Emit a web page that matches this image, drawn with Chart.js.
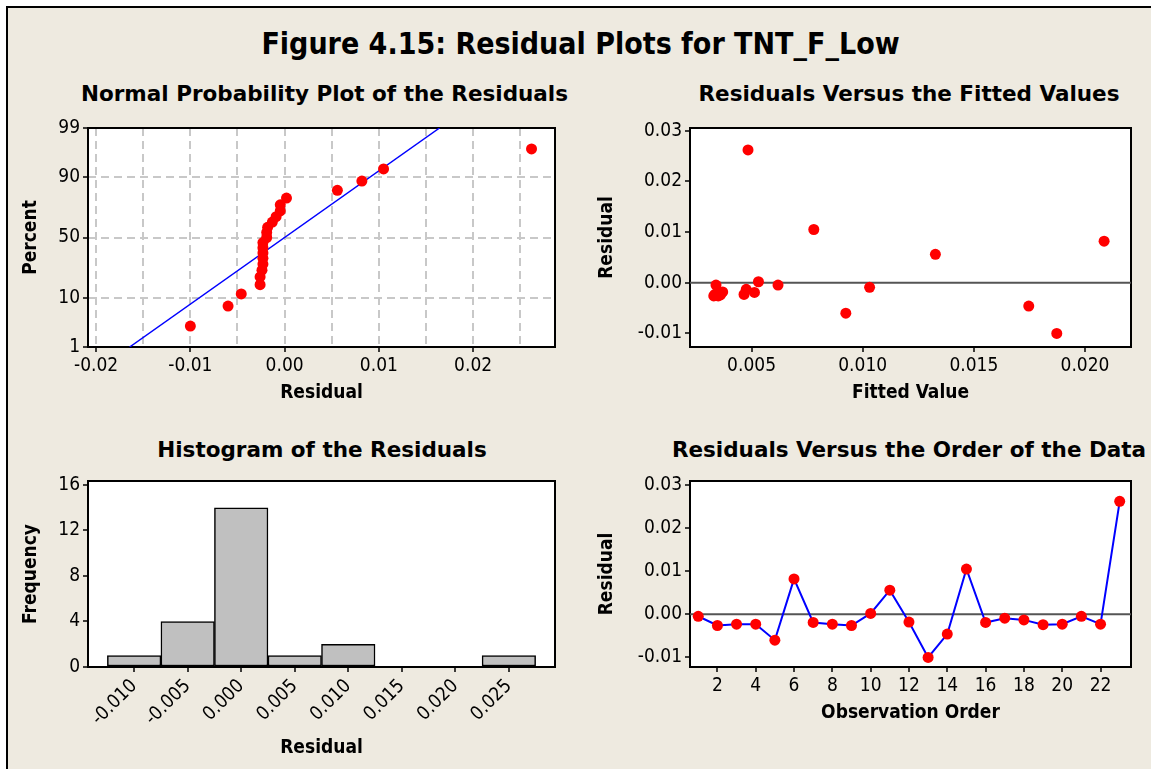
<!DOCTYPE html>
<html>
<head>
<meta charset="utf-8">
<title>Residual Plots for TNT_F_Low</title>
<script src="https://cdn.jsdelivr.net/npm/chart.js@4.4.1/dist/chart.umd.min.js"></script>
<style>
  html, body { margin: 0; padding: 0; background: #fff; overflow: hidden; }
  body { width: 1151px; height: 769px; position: relative; font-family: 'DejaVu Sans', sans-serif; }
  #sheet { position: absolute; left: 6px; top: 6px; width: 1200px; height: 800px; background: #eeeae0; border-left: 2px solid #000; border-top: 2px solid #000; }
  canvas { position: absolute; }
  .title { position: absolute; text-align: center; font-weight: bold; color: #000; white-space: nowrap; }
  #main-title { left: 10px; width: 1141px; top: 25px; height: 38px; line-height: 38px; font-size: 30px; font-family: 'DejaVu Sans Condensed', 'DejaVu Sans', sans-serif; }
  .panel-title { width: 484px; height: 28px; line-height: 28px; font-size: 21.5px; }
</style>
</head>
<body>
<div id="sheet"></div>
<div class="title" id="main-title">Figure 4.15: Residual Plots for TNT_F_Low</div>
<div class="title panel-title" style="left:81px;top:80px">Normal Probability Plot of the Residuals</div>
<div class="title panel-title" style="left:667px;top:80px">Residuals Versus the Fitted Values</div>
<div class="title panel-title" style="left:80px;top:436px">Histogram of the Residuals</div>
<div class="title panel-title" style="left:667px;top:436px">Residuals Versus the Order of the Data</div>
<canvas id="normalPlot" width="600" height="300" style="left:0;top:110px"></canvas>
<canvas id="fittedPlot" width="571" height="300" style="left:580px;top:110px"></canvas>
<canvas id="histPlot" width="600" height="309" style="left:0;top:460px"></canvas>
<canvas id="orderPlot" width="571" height="309" style="left:580px;top:460px"></canvas>
<script>
// residuals and fits, in observation order
const observation = [1, 2, 3, 4, 5, 6, 7, 8, 9, 10, 11, 12, 13, 14, 15, 16, 17, 18, 19, 20, 21, 22, 23];
const residuals = [-0.00046, -0.0026, -0.0023, -0.0023, -0.0060, 0.0082, -0.0019, -0.0023, -0.0026, 0.0002,
  0.0056, -0.0018, -0.0100, -0.0046, 0.0105, -0.0019, -0.0009, -0.0013, -0.0024, -0.0023, -0.00046, -0.0023, 0.0262];
const fittedValues = [0.00340, 0.00330, 0.00345, 0.00355, 0.00924, 0.02086, 0.00365, 0.00335, 0.00350, 0.00531,
  0.01327, 0.00370, 0.01873, 0.01747, 0.00780, 0.00513, 0.01031, 0.00476, 0.00360, 0.00342, 0.00619, 0.00466, 0.00484];

// normal probability plot: percent for the sorted residuals, and the fitted normal line
const normalPercent = [2.99, 7.26, 11.54, 15.81, 20.09, 24.36, 28.63, 32.91, 37.18, 41.45, 45.73, 50.00,
  54.27, 58.55, 62.82, 67.09, 71.37, 75.64, 79.91, 84.19, 88.46, 92.74, 97.01];
const fitLineResidual = [-0.01644, 0.01644];
const fitLinePercent = [1, 99];

// histogram
const histBinCenters = [-0.010, -0.005, 0.000, 0.005, 0.010, 0.015, 0.020, 0.025];
const histCounts = [1, 4, 14, 1, 2, 0, 0, 1];

// ticks
const percentTicks = [1, 10, 50, 90, 99];
const normalGridTicks = [-0.02, -0.015, -0.01, -0.005, 0, 0.005, 0.01, 0.015, 0.02, 0.025];
const normalLabelTicks = [-0.02, -0.01, 0, 0.01, 0.02];
const fittedTicks = [0.005, 0.010, 0.015, 0.020];
const residualTicks = [-0.01, 0, 0.01, 0.02, 0.03];
const frequencyTicks = [0, 4, 8, 12, 16];
const orderTicks = [2, 4, 6, 8, 10, 12, 14, 16, 18, 20, 22];

Chart.defaults.font.family = "'DejaVu Sans Condensed', 'DejaVu Sans', sans-serif";
Chart.defaults.font.size = 19;
Chart.defaults.color = '#000';

// inverse of the standard normal cdf (Acklam), used by the probability axis
function probit(p) {
  const a = [-39.69683028665376, 220.9460984245205, -275.9285104469687, 138.3577518672690, -30.66479806614716, 2.506628277459239];
  const b = [-54.47609879822406, 161.5858368580409, -155.6989798598866, 66.80131188771972, -13.28068155288572];
  const c = [-0.007784894002430293, -0.3223964580411365, -2.400758277161838, -2.549732539343734, 4.374664141464968, 2.938163982698783];
  const d = [0.007784695709041462, 0.3224671290700398, 2.445134137142996, 3.754408661907416];
  const tail = (q) => (((((c[0] * q + c[1]) * q + c[2]) * q + c[3]) * q + c[4]) * q + c[5]) /
    ((((d[0] * q + d[1]) * q + d[2]) * q + d[3]) * q + 1);
  if (p < 0.02425) return tail(Math.sqrt(-2 * Math.log(p)));
  if (p > 1 - 0.02425) return -tail(Math.sqrt(-2 * Math.log(1 - p)));
  const q = p - 0.5;
  const r = q * q;
  return (((((a[0] * r + a[1]) * r + a[2]) * r + a[3]) * r + a[4]) * r + a[5]) * q /
    (((((b[0] * r + b[1]) * r + b[2]) * r + b[3]) * r + b[4]) * r + 1);
}

class ProbabilityScale extends Chart.LinearScale {
  static id = 'probability';
  static defaults = Chart.LinearScale.defaults;
  buildTicks() {
    return percentTicks.map((value) => ({ value }));
  }
  getPixelForValue(value) {
    const z0 = probit(this.min / 100);
    const z1 = probit(this.max / 100);
    return this.getPixelForDecimal((probit(value / 100) - z0) / (z1 - z0));
  }
}
Chart.register(ProbabilityScale);

// white plot area with a black box round it
const plotFrame = {
  id: 'plotFrame',
  beforeDraw(chart) {
    const { ctx, chartArea: a } = chart;
    ctx.save();
    ctx.fillStyle = '#fff';
    ctx.fillRect(a.left, a.top, a.width, a.height);
    ctx.restore();
  },
  beforeDatasetsDraw(chart) {
    const { ctx, chartArea: a } = chart;
    ctx.save();
    ctx.strokeStyle = '#000';
    ctx.lineWidth = 2;
    ctx.strokeRect(a.left, a.top, a.width, a.height);
    ctx.restore();
  },
};

const fixedSize = (size) => (scale) => {
  if (scale.isHorizontal()) scale.height = size;
  else scale.width = size;
};

function axis({ min, max, ticks, format, size, title, titlePad, grid = false, tickColor = '#000', type = 'linear', rotation = 0 }) {
  return {
    type,
    min,
    max,
    offset: false,
    afterBuildTicks: type === 'linear' ? (scale) => { scale.ticks = ticks.map((value) => ({ value })); } : undefined,
    afterFit: fixedSize(size),
    border: { display: false, dash: [8, 5] },
    grid: {
      offset: false,
      drawOnChartArea: grid,
      color: '#c8c8c8',
      lineWidth: 2,
      tickLength: 5,
      tickWidth: 1.5,
      tickColor,
    },
    ticks: {
      autoSkip: false,
      minRotation: rotation,
      maxRotation: rotation,
      padding: 3,
      callback: format,
    },
    title: {
      display: true,
      text: title,
      font: { weight: 'bold', size: 19 },
      padding: titlePad,
    },
  };
}

const common = {
  responsive: false,
  animation: false,
  events: [],
  plugins: { legend: { display: false }, tooltip: { enabled: false } },
};

const sortedResiduals = [...residuals].sort((a, b) => a - b);

// Normal probability plot
new Chart(document.getElementById('normalPlot'), {
  type: 'scatter',
  data: {
    datasets: [
      {
        data: sortedResiduals.map((r, i) => ({ x: r, y: normalPercent[i] })),
        backgroundColor: '#ff0000',
        borderWidth: 0,
        pointRadius: 5.5,
      },
      {
        data: fitLineResidual.map((r, i) => ({ x: r, y: fitLinePercent[i] })),
        showLine: true,
        borderColor: '#0000ff',
        borderWidth: 1.5,
        pointRadius: 0,
      },
    ],
  },
  options: {
    ...common,
    layout: { padding: { top: 18, right: 45, bottom: 0, left: 0 } },
    scales: {
      x: axis({
        min: -0.02086, max: 0.02869, ticks: normalGridTicks, size: 63, grid: true,
        format: (v) => (normalLabelTicks.includes(v) ? v.toFixed(2) : ''),
        tickColor: (ctx) => (normalLabelTicks.includes(ctx.tick.value) ? '#000' : 'rgba(0,0,0,0)'),
        title: 'Residual', titlePad: { bottom: 6 },
      }),
      y: axis({
        type: 'probability', min: 1, max: 99, size: 88, grid: true,
        format: (v) => String(v),
        title: 'Percent', titlePad: { top: 20 },
      }),
    },
  },
  plugins: [plotFrame],
});

// Residuals versus fits
new Chart(document.getElementById('fittedPlot'), {
  type: 'scatter',
  data: {
    datasets: [
      {
        data: fittedValues.map((f, i) => ({ x: f, y: residuals[i] })),
        backgroundColor: '#ff0000',
        borderWidth: 0,
        pointRadius: 5.5,
      },
      {
        data: [{ x: 0.00223, y: 0 }, { x: 0.02207, y: 0 }],
        showLine: true,
        borderColor: '#555555',
        borderWidth: 2,
        pointRadius: 0,
      },
    ],
  },
  options: {
    ...common,
    layout: { padding: { top: 18, right: 20, bottom: 0, left: 0 } },
    scales: {
      x: axis({
        min: 0.00223, max: 0.02207, ticks: fittedTicks, size: 63,
        format: (v) => v.toFixed(3), title: 'Fitted Value', titlePad: { bottom: 6 },
      }),
      y: axis({
        min: -0.01267, max: 0.03052, ticks: residualTicks, size: 110,
        format: (v) => v.toFixed(2), title: 'Residual', titlePad: { top: 16 },
      }),
    },
  },
  plugins: [plotFrame],
});

// Histogram
new Chart(document.getElementById('histPlot'), {
  type: 'bar',
  data: {
    datasets: [{
      data: histBinCenters.map((c, i) => ({ x: c, y: histCounts[i] })),
      backgroundColor: '#c0c0c0',
      borderColor: '#000',
      borderWidth: 1.5,
      borderSkipped: false,
      barPercentage: 1,
      categoryPercentage: 1,
    }],
  },
  options: {
    ...common,
    layout: { padding: { top: 21, right: 45, bottom: 0, left: 0 } },
    scales: {
      x: axis({
        min: -0.01431, max: 0.02931, ticks: histBinCenters, size: 102, rotation: 45,
        format: (v) => v.toFixed(3), title: 'Residual', titlePad: { bottom: 10 },
      }),
      y: axis({
        min: 0, max: 16.35, ticks: frequencyTicks, size: 88,
        format: (v) => String(v), title: 'Frequency', titlePad: { top: 20 },
      }),
    },
  },
  plugins: [plotFrame],
});

// Residuals versus order
new Chart(document.getElementById('orderPlot'), {
  type: 'scatter',
  data: {
    datasets: [
      {
        data: observation.map((o, i) => ({ x: o, y: residuals[i] })),
        showLine: true,
        borderColor: '#0000ff',
        borderWidth: 2,
        backgroundColor: '#ff0000',
        pointBorderWidth: 0,
        pointRadius: 5.5,
      },
      {
        data: [{ x: 0.57, y: 0 }, { x: 23.59, y: 0 }],
        showLine: true,
        borderColor: '#555555',
        borderWidth: 2,
        pointRadius: 0,
      },
    ],
  },
  options: {
    ...common,
    layout: { padding: { top: 21, right: 20, bottom: 0, left: 0 } },
    scales: {
      x: axis({
        min: 0.57, max: 23.59, ticks: orderTicks, size: 102,
        format: (v) => String(v), title: 'Observation Order', titlePad: { bottom: 45 },
      }),
      y: axis({
        min: -0.01223, max: 0.03092, ticks: residualTicks, size: 110,
        format: (v) => v.toFixed(2), title: 'Residual', titlePad: { top: 16 },
      }),
    },
  },
  plugins: [plotFrame],
});
</script>
</body>
</html>
